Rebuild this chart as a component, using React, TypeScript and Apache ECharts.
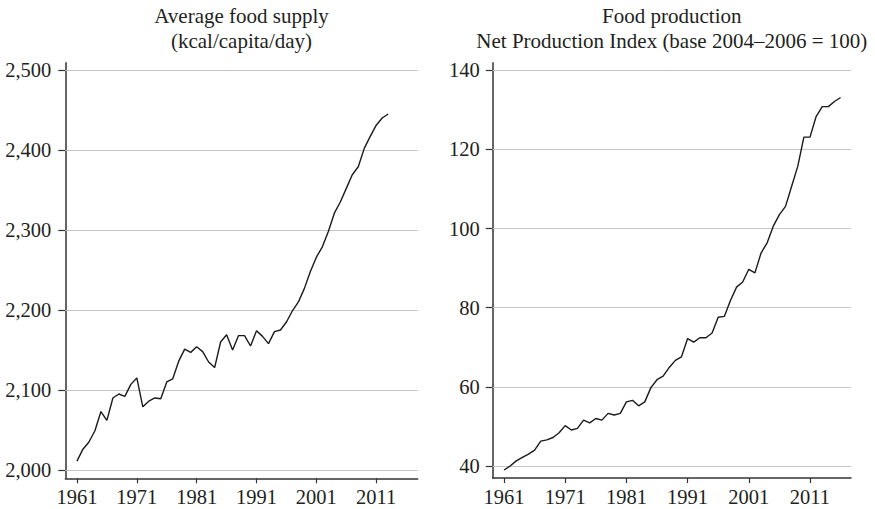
import React, { useEffect, useRef } from "react";
import * as echarts from "echarts";

const supplyYears = [1961,1962,1963,1964,1965,1966,1967,1968,1969,1970,1971,1972,1973,1974,1975,1976,1977,1978,1979,1980,1981,1982,1983,1984,1985,1986,1987,1988,1989,1990,1991,1992,1993,1994,1995,1996,1997,1998,1999,2000,2001,2002,2003,2004,2005,2006,2007,2008,2009,2010,2011,2012,2013];
const supplyValues = [2011,2026,2035,2049,2073,2062,2090,2095,2092,2107,2115,2079,2086,2090,2089,2110,2114,2136,2151,2147,2154,2148,2135,2128,2160,2169,2150,2168,2168,2155,2174,2167,2158,2173,2175,2185,2199,2210,2227,2248,2266,2279,2298,2321,2335,2352,2369,2379,2402,2417,2431,2440,2445];

const prodYears = [1961,1962,1963,1964,1965,1966,1967,1968,1969,1970,1971,1972,1973,1974,1975,1976,1977,1978,1979,1980,1981,1982,1983,1984,1985,1986,1987,1988,1989,1990,1991,1992,1993,1994,1995,1996,1997,1998,1999,2000,2001,2002,2003,2004,2005,2006,2007,2008,2009,2010,2011,2012,2013,2014,2015,2016];
const prodValues = [39.0,40.0,41.3,42.2,43.0,44.0,46.3,46.6,47.2,48.4,50.2,49.1,49.5,51.6,50.9,52.0,51.6,53.3,52.9,53.3,56.2,56.6,55.2,56.2,59.8,61.8,62.7,64.9,66.7,67.6,72.2,71.3,72.4,72.4,73.6,77.6,77.8,81.8,85.2,86.5,89.7,88.8,93.8,96.4,100.6,103.5,105.6,110.7,115.7,123.1,123.1,128.3,130.8,130.8,132.1,133.1];

const yearTicks = [1961, 1971, 1981, 1991, 2001, 2011];
const supplyTicks = [2000, 2100, 2200, 2300, 2400, 2500];
const prodTicks = [40, 60, 80, 100, 120, 140];

const leftTitle = "Average food supply\n(kcal/capita/day)";
const rightTitle = "Food production\nNet Production Index (base 2004\u20132006 = 100)";

const FONT = "Liberation Serif";
const AXIS_COLOR = "#333333";
const TEXT_COLOR = "#231f20";
const TICK_FONT = 20.5;

export default function App() {
  const ref = useRef<HTMLDivElement>(null);
  useEffect(() => {
    if (!ref.current) return;
    const chart = echarts.init(ref.current, undefined, { renderer: "svg" });
    const xAxisBase = (min: number, max: number, idx: number) => ({
      type: "value" as const,
      gridIndex: idx,
      min,
      max,
      axisLine: { show: true, lineStyle: { color: AXIS_COLOR, width: 1.5 } },
      axisTick: { show: true, customValues: yearTicks, length: 5, lineStyle: { color: AXIS_COLOR, width: 1.2 } },
      axisLabel: {
        customValues: yearTicks,
        margin: 8,
        color: TEXT_COLOR,
        fontFamily: FONT,
        fontSize: TICK_FONT,
        formatter: (v: number) => String(v),
      },
      splitLine: { show: false },
    });
    const yAxisBase = (min: number, max: number, idx: number, ticks: number[], margin: number) => ({
      type: "value" as const,
      gridIndex: idx,
      min,
      max,
      axisLine: { show: true, lineStyle: { color: AXIS_COLOR, width: 1.5 } },
      axisTick: { show: true, customValues: ticks, length: 7, lineStyle: { color: AXIS_COLOR, width: 1.2 } },
      axisLabel: {
        customValues: ticks,
        margin,
        color: TEXT_COLOR,
        fontFamily: FONT,
        fontSize: TICK_FONT,
        formatter: (v: number) => v.toLocaleString("en-US"),
      },
      splitLine: { show: false },
    });
    const gridMarks = (ticks: number[]) => ({
      silent: true,
      symbol: ["none", "none"],
      label: { show: false },
      lineStyle: { color: "#c4c4c4", width: 1.2, type: "solid" as const },
      data: ticks.map((t) => ({ yAxis: t })),
      z: 1,
    });
    chart.setOption({
      animation: false,
      backgroundColor: "#ffffff",
      grid: [
        { left: 65.3, right: 457.3, top: 62.7, bottom: 30.7, containLabel: false },
        { left: 492.7, right: 24, top: 62.7, bottom: 31, containLabel: false },
      ],
      xAxis: [xAxisBase(1959.05, 2017.93, 0), xAxisBase(1959.15, 2017.7, 1)],
      yAxis: [
        yAxisBase(1989.6, 2509.1, 0, supplyTicks, 14),
        yAxisBase(36.97, 141.9, 1, prodTicks, 13),
      ],
      graphic: [
        {
          type: "text",
          x: 241.5,
          y: 4,
          style: {
            text: leftTitle,
            textAlign: "center",
            textVerticalAlign: "top",
            fontFamily: FONT,
            fontSize: 21,
            lineHeight: 24.5,
            fill: TEXT_COLOR,
          },
        },
        {
          type: "text",
          x: 671.8,
          y: 4,
          style: {
            text: rightTitle,
            textAlign: "center",
            textVerticalAlign: "top",
            fontFamily: FONT,
            fontSize: 21,
            lineHeight: 24.5,
            fill: TEXT_COLOR,
          },
        },
      ],
      series: [
        {
          type: "line",
          xAxisIndex: 0,
          yAxisIndex: 0,
          data: supplyYears.map((y, i) => [y, supplyValues[i]]),
          showSymbol: false,
          symbol: "none",
          lineStyle: { color: "#1a1a1a", width: 1.4 },
          z: 3,
          markLine: gridMarks(supplyTicks),
        },
        {
          type: "line",
          xAxisIndex: 1,
          yAxisIndex: 1,
          data: prodYears.map((y, i) => [y, prodValues[i]]),
          showSymbol: false,
          symbol: "none",
          lineStyle: { color: "#1a1a1a", width: 1.4 },
          z: 3,
          markLine: gridMarks(prodTicks),
        },
      ],
    });
    return () => chart.dispose();
  }, []);
  return (
    <div
      ref={ref}
      style={{ position: "fixed", left: 0, top: 0, width: 875, height: 509, background: "#fff" }}
    />
  );
}
